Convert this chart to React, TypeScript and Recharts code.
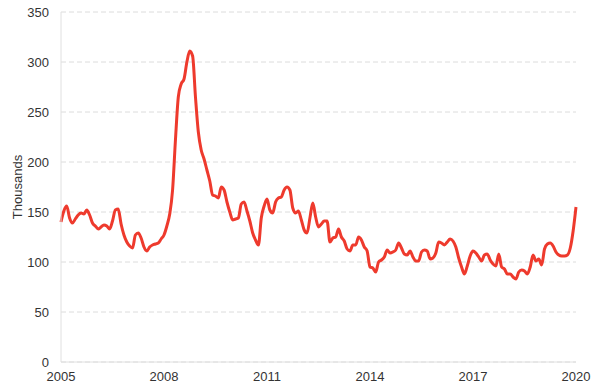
import { CartesianGrid, Line, LineChart, XAxis, YAxis } from "recharts";

// monthly values, Jan 2005 .. Jan 2020 (thousands)
const VALUES_2005 = [140, 151, 156, 144, 139, 143, 147, 149, 148, 152, 147, 139];
const VALUES_2006 = [136, 133, 135, 137, 136, 133, 141, 152, 153, 138, 127, 120];
const VALUES_2007 = [116, 114, 127, 129, 124, 115, 111, 115, 117, 118, 119, 123];
const VALUES_2008 = [127, 136, 148, 172, 222, 265, 278, 283, 300, 311, 306, 265];
const VALUES_2009 = [230, 212, 203, 192, 181, 167, 166, 164, 175, 172, 160, 150];
const VALUES_2010 = [142, 143, 144, 158, 160, 151, 141, 129, 122, 117, 144, 156];
const VALUES_2011 = [163, 152, 149, 160, 164, 165, 172, 175, 172, 154, 149, 151];
const VALUES_2012 = [142, 132, 129, 144, 159, 145, 135, 138, 141, 141, 120, 124];
const VALUES_2013 = [125, 133, 125, 121, 113, 111, 117, 117, 125, 122, 115, 111];
const VALUES_2014 = [95, 94, 90, 100, 102, 105, 112, 109, 110, 112, 119, 114];
const VALUES_2015 = [108, 107, 111, 105, 101, 101, 110, 112, 111, 103, 104, 109];
const VALUES_2016 = [120, 119, 117, 120, 123, 121, 115, 104, 95, 88, 96, 106];
const VALUES_2017 = [111, 109, 105, 101, 107, 108, 102, 98, 96, 108, 95, 93];
const VALUES_2018 = [88, 88, 85, 83, 90, 92, 91, 88, 95, 107, 101, 103];
const VALUES_2019 = [97, 113, 118, 119, 116, 110, 107, 106, 106, 107, 114, 131];
const VALUES_2020 = [155];

const START_YEAR = 2005;
const X_TICKS = [2005, 2008, 2011, 2014, 2017, 2020];
const Y_TICKS = [0, 50, 100, 150, 200, 250, 300, 350];

const values = [
  ...VALUES_2005, ...VALUES_2006, ...VALUES_2007, ...VALUES_2008,
  ...VALUES_2009, ...VALUES_2010, ...VALUES_2011, ...VALUES_2012,
  ...VALUES_2013, ...VALUES_2014, ...VALUES_2015, ...VALUES_2016,
  ...VALUES_2017, ...VALUES_2018, ...VALUES_2019, ...VALUES_2020,
];

const data = values.map((value, i) => ({ t: START_YEAR + i / 12, value }));

const FONT = "'Liberation Sans', Arial, sans-serif";
const TICK = { fill: "#333", fontSize: 13, fontFamily: FONT };

export default function App() {
  return (
    <div style={{ position: "absolute", left: 0, top: 0, background: "#fff" }}>
      <LineChart width={600} height={391} data={data} margin={{ top: 12, right: 24, bottom: 0, left: 0 }}>
        <CartesianGrid vertical={false} stroke="#dcdcdc" strokeDasharray="5 3" />
        <XAxis
          dataKey="t"
          type="number"
          domain={[2005, 2020]}
          ticks={X_TICKS}
          height={29}
          tickLine={false}
          tickMargin={4}
          stroke="#e0e0e0"
          tick={TICK}
          interval={0}
        />
        <YAxis
          domain={[0, 350]}
          ticks={Y_TICKS}
          width={61}
          tickLine={false}
          tickMargin={6}
          stroke="#e0e0e0"
          tick={TICK}
          label={{
            value: "Thousands",
            angle: -90,
            position: "insideLeft",
            dx: 12,
            dy: 0,
            style: { textAnchor: "middle", fill: "#333", fontSize: 13, fontFamily: FONT },
          }}
        />
        <Line
          type="monotone"
          dataKey="value"
          stroke="#ee3a2d"
          strokeWidth={3}
          dot={false}
          isAnimationActive={false}
        />
      </LineChart>
    </div>
  );
}
